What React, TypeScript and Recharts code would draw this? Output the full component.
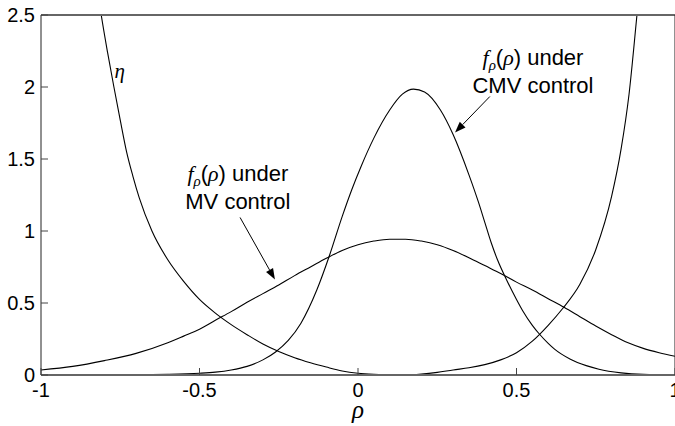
import { Line, LineChart, ReferenceDot, ReferenceLine, XAxis, YAxis } from 'recharts';

// eta (U-shaped) curve
const etaRho = [
  -0.83, -0.81, -0.79, -0.77, -0.75, -0.73, -0.71, -0.69, -0.65, -0.6, -0.55, -0.5, -0.45, -0.4, -0.35,
  -0.3, -0.25, -0.2, -0.15, -0.1, -0.05, 0, 0.05, 0.1, 0.15, 0.2, 0.25, 0.3, 0.35, 0.4, 0.45, 0.5, 0.55,
  0.6, 0.645, 0.7, 0.75, 0.8, 0.83, 0.855, 0.88, 0.9,
];
const etaVal = [
  2.8, 2.5, 2.24, 2.0, 1.77, 1.55, 1.38, 1.23, 1.0, 0.8, 0.65, 0.525, 0.43, 0.35, 0.28,
  0.215, 0.163, 0.12, 0.085, 0.055, 0.028, 0.012, 0.004, 0, 0, 0.006, 0.018, 0.035, 0.05, 0.072, 0.105, 0.155, 0.235,
  0.345, 0.46, 0.63, 0.87, 1.24, 1.57, 1.95, 2.5, 2.95,
];

// density under MV control
const mvRho = [
  -1, -0.9, -0.8, -0.7, -0.6, -0.55, -0.5, -0.45, -0.4, -0.35, -0.3, -0.25, -0.2, -0.15, -0.1, -0.05,
  0, 0.05, 0.1, 0.15, 0.2, 0.25, 0.3, 0.35, 0.4, 0.45, 0.5, 0.55, 0.6, 0.65, 0.7, 0.75, 0.8, 0.85, 0.9,
  0.95, 1,
];
const mvVal = [
  0.035, 0.06, 0.1, 0.15, 0.224, 0.27, 0.318, 0.38, 0.44, 0.505, 0.565, 0.625, 0.69, 0.75, 0.81, 0.865,
  0.905, 0.93, 0.943, 0.943, 0.93, 0.905, 0.865, 0.815, 0.76, 0.705, 0.645, 0.59, 0.53, 0.47, 0.405, 0.34,
  0.28, 0.225, 0.185, 0.155, 0.13,
];

// density under CMV control
const cmvRho = [
  -1, -0.7, -0.6, -0.5, -0.45, -0.4, -0.35, -0.3, -0.26, -0.22, -0.18, -0.13, -0.09, -0.05, -0.02,
  0.01, 0.05, 0.1, 0.14, 0.175, 0.21, 0.26, 0.3, 0.35, 0.38, 0.4, 0.42, 0.44, 0.47, 0.5, 0.52, 0.55,
  0.57, 0.6, 0.62, 0.67, 0.72, 0.76, 0.83, 0.9, 1,
];
const cmvVal = [
  0, 0.001, 0.004, 0.012, 0.02, 0.035, 0.06, 0.105, 0.16, 0.24, 0.36, 0.59, 0.83, 1.1, 1.285,
  1.45, 1.645, 1.84, 1.95, 1.985, 1.965, 1.84, 1.67, 1.39, 1.2, 1.06, 0.92, 0.8, 0.655, 0.525, 0.445, 0.345,
  0.29, 0.22, 0.18, 0.11, 0.065, 0.04, 0.015, 0.004, 0,
];

const xTicks = [-1, -0.5, 0, 0.5, 1];
const yTicks = [0, 0.5, 1, 1.5, 2, 2.5];

const toPoints = (xs: number[], ys: number[]) => xs.map((rho, i) => ({ rho, value: ys[i] }));

const etaData = toPoints(etaRho, etaVal);
const mvData = toPoints(mvRho, mvVal);
const cmvData = toPoints(cmvRho, cmvVal);

const SANS = "'Liberation Sans', Arial, sans-serif";
const SERIF = "'Liberation Serif', 'Times New Roman', serif";
const TICK_LEN = 7;
const TICK_COLOR = '#444';
const TICK_FONT = 20;

function BottomTick({ x, y, payload }: any) {
  return (
    <g>
      <line x1={x} y1={y} x2={x} y2={y - TICK_LEN} stroke={TICK_COLOR} />
      <text x={x} y={y + 22} textAnchor="middle" fontSize={TICK_FONT} fontFamily={SANS} fill="#000">
        {String(payload.value)}
      </text>
    </g>
  );
}

function LeftTick({ x, y, payload }: any) {
  return (
    <g>
      <line x1={x} y1={y} x2={x + TICK_LEN} y2={y} stroke={TICK_COLOR} />
      <text x={x - 6} y={y + 7} textAnchor="end" fontSize={TICK_FONT} fontFamily={SANS} fill="#000">
        {String(payload.value)}
      </text>
    </g>
  );
}

function TopTick({ x, y }: any) {
  return <line x1={x} y1={y} x2={x} y2={y + TICK_LEN} stroke={TICK_COLOR} />;
}

function RightTick({ x, y }: any) {
  return <line x1={x} y1={y} x2={x - TICK_LEN} y2={y} stroke={TICK_COLOR} />;
}

function Arrow({ x1, y1, x2, y2 }: any) {
  const ang = Math.atan2(y2 - y1, x2 - x1);
  const len = 11;
  const half = 4;
  const bx = x2 - len * Math.cos(ang);
  const by = y2 - len * Math.sin(ang);
  const px = -Math.sin(ang) * half;
  const py = Math.cos(ang) * half;
  return (
    <g>
      <line x1={x1} y1={y1} x2={bx} y2={by} stroke="#000" strokeWidth={1} />
      <polygon points={`${x2},${y2} ${bx + px},${by + py} ${bx - px},${by - py}`} fill="#000" />
    </g>
  );
}

function DensityLabel({ cx, cy, name }: any) {
  return (
    <g fontFamily={SANS} fontSize={22} fill="#000">
      <text x={cx} y={cy} textAnchor="middle">
        <tspan fontFamily={SERIF} fontStyle="italic">f</tspan>
        <tspan fontFamily={SERIF} fontStyle="italic" fontSize={15} dy={5}>ρ</tspan>
        <tspan dy={-5}>(</tspan>
        <tspan fontFamily={SERIF} fontStyle="italic">ρ</tspan>
        <tspan>) under</tspan>
      </text>
      <text x={cx} y={cy + 28} textAnchor="middle">
        {name} control
      </text>
    </g>
  );
}

function EtaLabel({ cx, cy }: any) {
  return (
    <text x={cx} y={cy} fontFamily={SERIF} fontStyle="italic" fontSize={21} fill="#000">
      η
    </text>
  );
}

export default function App() {
  return (
    <div
      style={{
        position: 'absolute',
        left: 0,
        top: 0,
        width: 675,
        height: 426,
        overflow: 'hidden',
        background: '#fff',
      }}
    >
      <LineChart width={680} height={426} margin={{ top: 0, right: 0, bottom: 0, left: 0 }}>
        <XAxis
          dataKey="rho"
          type="number"
          domain={[-1, 1]}
          ticks={xTicks}
          interval={0}
          height={51}
          tickSize={0}
          tickMargin={0}
          tickLine={false}
          tick={<BottomTick />}
          axisLine={{ stroke: '#666', strokeWidth: 2 }}
          label={{
            value: 'ρ',
            position: 'insideBottom',
            offset: 8,
            fontSize: 25,
            fontStyle: 'italic',
            fontFamily: SERIF,
            fill: '#000',
          }}
        />
        <XAxis
          xAxisId="top"
          orientation="top"
          dataKey="rho"
          type="number"
          domain={[-1, 1]}
          ticks={xTicks}
          interval={0}
          height={15}
          tickSize={0}
          tickMargin={0}
          tickLine={false}
          tick={<TopTick />}
          axisLine={{ stroke: '#666', strokeWidth: 2 }}
        />
        <YAxis
          type="number"
          domain={[0, 2.5]}
          ticks={yTicks}
          interval={0}
          allowDataOverflow
          width={41}
          tickSize={0}
          tickMargin={0}
          tickLine={false}
          tick={<LeftTick />}
          axisLine={{ stroke: '#222', strokeWidth: 1 }}
        />
        <YAxis
          yAxisId="right"
          orientation="right"
          type="number"
          domain={[0, 2.5]}
          ticks={yTicks}
          interval={0}
          width={5}
          tickSize={0}
          tickMargin={0}
          tickLine={false}
          tick={<RightTick />}
          axisLine={{ stroke: '#222', strokeWidth: 1 }}
        />

        <Line data={etaData} dataKey="value" type="monotone" stroke="#000" strokeWidth={1.1} dot={false} isAnimationActive={false} />
        <Line data={mvData} dataKey="value" type="monotone" stroke="#000" strokeWidth={1.1} dot={false} isAnimationActive={false} />
        <Line data={cmvData} dataKey="value" type="monotone" stroke="#000" strokeWidth={1.1} dot={false} isAnimationActive={false} />

        <ReferenceLine segment={[{ x: -0.372, y: 1.094 }, { x: -0.262, y: 0.663 }]} shape={<Arrow />} />
        <ReferenceLine segment={[{ x: 0.416, y: 1.934 }, { x: 0.306, y: 1.684 }]} shape={<Arrow />} />

        <ReferenceDot x={-0.768} y={2.06} r={0} shape={<EtaLabel />} />
        <ReferenceDot x={-0.379} y={1.345} r={0} shape={<DensityLabel name="MV" />} />
        <ReferenceDot x={0.552} y={2.155} r={0} shape={<DensityLabel name="CMV" />} />
      </LineChart>
    </div>
  );
}
